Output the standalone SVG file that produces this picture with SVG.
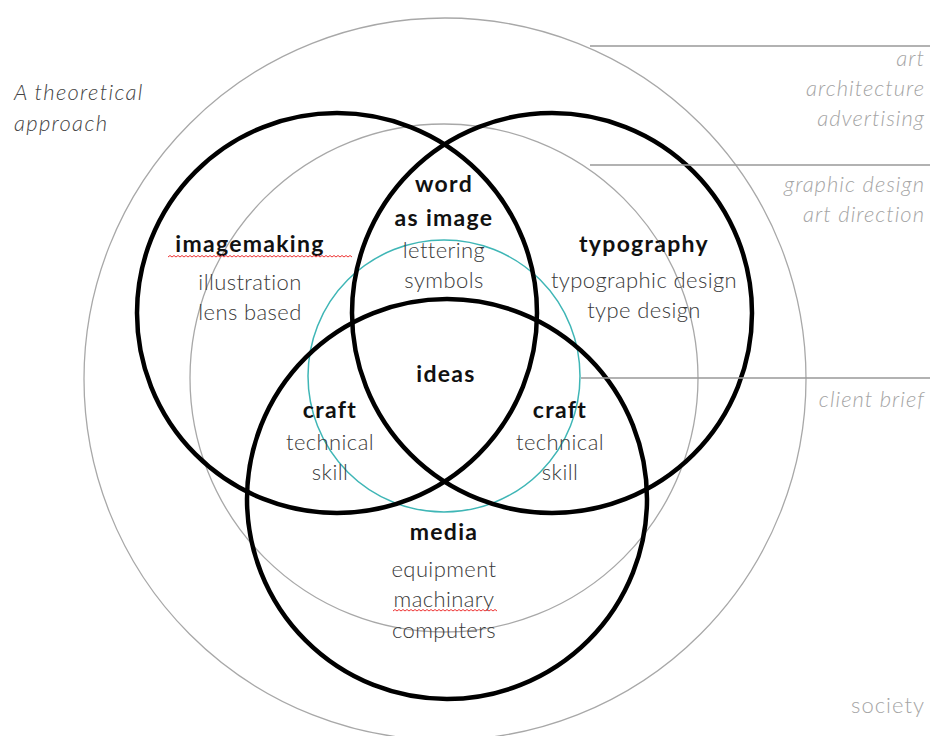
<svg xmlns="http://www.w3.org/2000/svg" width="932" height="736" viewBox="0 0 932 736">
<style>
.g{fill:none;stroke:#a8a8a8;stroke-width:1.3}
.b{fill:none;stroke:#000;stroke-width:4.5}
.t{fill:none;stroke:#3fb6b6;stroke-width:1.5}
.lead{stroke:#999;stroke-width:1.3}
text{font-family:Lato,"Open Sans","DejaVu Sans",sans-serif;text-anchor:middle}
.h{font-weight:bold;font-size:23px;fill:#111;letter-spacing:1.3px}
.l{font-size:22px;fill:#3a3a3a;font-weight:300;letter-spacing:0.4px}
.side{font-style:italic;font-size:22px;fill:#a5a5a5;text-anchor:end;font-weight:300;letter-spacing:1px}
.title{font-style:italic;font-size:22px;fill:#444;text-anchor:start;font-weight:300;letter-spacing:1.3px}
.sq{fill:none;stroke:#e33;stroke-width:1}
</style>
<rect width="932" height="736" fill="#fff"/>
<g id="context">
<circle id="society" class="g" cx="445" cy="379" r="361"/>
<circle id="graphic-design" class="g" cx="444" cy="378" r="254"/>
<circle id="client-brief" class="t" cx="444" cy="376" r="136"/>
</g>
<g id="imagemaking-circle"><circle class="b" cx="337" cy="313" r="200"/></g>
<g id="typography-circle"><circle class="b" cx="552" cy="313" r="200"/></g>
<g id="media-circle"><circle class="b" cx="447" cy="499" r="200"/></g>
<g id="connectors">
<line class="lead" x1="590" y1="46" x2="930" y2="46"/>
<line class="lead" x1="590" y1="165" x2="930" y2="165"/>
<line class="lead" x1="581" y1="378" x2="930" y2="378"/>
</g>
<g id="title">
<text class="title" x="14" y="100">A theoretical</text>
<text class="title" x="14" y="131">approach</text>
</g>
<g id="side-labels">
<text class="side" x="925" y="66">art</text>
<text class="side" x="925" y="96">architecture</text>
<text class="side" x="925" y="126">advertising</text>
<text class="side" x="925" y="192">graphic design</text>
<text class="side" x="925" y="222">art direction</text>
<text class="side" x="925" y="407">client brief</text>
<text class="side" x="925" y="713" style="font-style:normal">society</text>
</g>
<g id="imagemaking">
<text class="h" x="250" y="252">imagemaking</text>
<path class="sq" d="M168 257 l2 -1.5 l2 1.5 l2 -1.5 l2 1.5 l2 -1.5 l2 1.5 l2 -1.5 l2 1.5 l2 -1.5 l2 1.5 l2 -1.5 l2 1.5 l2 -1.5 l2 1.5 l2 -1.5 l2 1.5 l2 -1.5 l2 1.5 l2 -1.5 l2 1.5 l2 -1.5 l2 1.5 l2 -1.5 l2 1.5 l2 -1.5 l2 1.5 l2 -1.5 l2 1.5 l2 -1.5 l2 1.5 l2 -1.5 l2 1.5 l2 -1.5 l2 1.5 l2 -1.5 l2 1.5 l2 -1.5 l2 1.5 l2 -1.5 l2 1.5 l2 -1.5 l2 1.5 l2 -1.5 l2 1.5 l2 -1.5 l2 1.5 l2 -1.5 l2 1.5 l2 -1.5 l2 1.5 l2 -1.5 l2 1.5 l2 -1.5 l2 1.5 l2 -1.5 l2 1.5 l2 -1.5 l2 1.5 l2 -1.5 l2 1.5 l2 -1.5 l2 1.5 l2 -1.5 l2 1.5 l2 -1.5 l2 1.5 l2 -1.5 l2 1.5 l2 -1.5 l2 1.5 l2 -1.5 l2 1.5 l2 -1.5 l2 1.5 l2 -1.5 l2 1.5 l2 -1.5 l2 1.5 l2 -1.5 l2 1.5 l2 -1.5 l2 1.5 l2 -1.5 l2 1.5 l2 -1.5 l2 1.5 l2 -1.5 l2 1.5 l2 -1.5 l2 1.5 l2 -1.5 l2 1.5"/>
<text class="l" x="250" y="290">illustration</text>
<text class="l" x="250" y="320">lens based</text>
</g>
<g id="word-as-image">
<text class="h" x="444" y="192">word</text>
<text class="h" x="444" y="226">as image</text>
<text class="l" x="444" y="258">lettering</text>
<text class="l" x="444" y="288">symbols</text>
</g>
<g id="typography">
<text class="h" x="644" y="252">typography</text>
<text class="l" x="644" y="288">typographic design</text>
<text class="l" x="644" y="318">type design</text>
</g>
<g id="ideas"><text class="h" x="446" y="382">ideas</text></g>
<g id="craft-left">
<text class="h" x="330" y="418">craft</text>
<text class="l" x="330" y="450">technical</text>
<text class="l" x="330" y="480">skill</text>
</g>
<g id="craft-right">
<text class="h" x="560" y="418">craft</text>
<text class="l" x="560" y="450">technical</text>
<text class="l" x="560" y="480">skill</text>
</g>
<g id="media">
<text class="h" x="444" y="540">media</text>
<text class="l" x="444" y="577">equipment</text>
<text class="l" x="444" y="607">machinary</text>
<path class="sq" d="M393 611 l2 -1.5 l2 1.5 l2 -1.5 l2 1.5 l2 -1.5 l2 1.5 l2 -1.5 l2 1.5 l2 -1.5 l2 1.5 l2 -1.5 l2 1.5 l2 -1.5 l2 1.5 l2 -1.5 l2 1.5 l2 -1.5 l2 1.5 l2 -1.5 l2 1.5 l2 -1.5 l2 1.5 l2 -1.5 l2 1.5 l2 -1.5 l2 1.5 l2 -1.5 l2 1.5 l2 -1.5 l2 1.5 l2 -1.5 l2 1.5 l2 -1.5 l2 1.5 l2 -1.5 l2 1.5 l2 -1.5 l2 1.5 l2 -1.5 l2 1.5 l2 -1.5 l2 1.5 l2 -1.5 l2 1.5 l2 -1.5 l2 1.5 l2 -1.5 l2 1.5 l2 -1.5 l2 1.5 l2 -1.5 l2 1.5"/>
<text class="l" x="444" y="638">computers</text>
</g>
</svg>
